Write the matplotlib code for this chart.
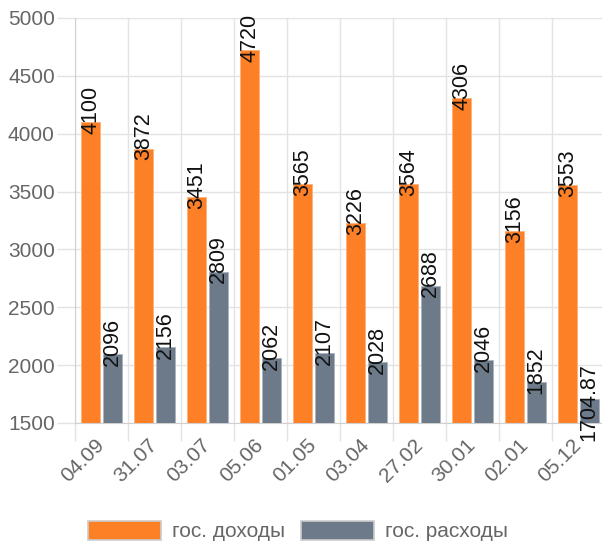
import numpy as np
import matplotlib.pyplot as plt
from matplotlib.ticker import FixedLocator

plt.rcParams['font.family'] = ['Liberation Sans', 'DejaVu Sans']

# chart data
dates = ['04.09', '31.07', '03.07', '05.06', '01.05',
         '03.04', '27.02', '30.01', '02.01', '05.12']
income = [4100, 3872, 3451, 4720, 3565, 3226, 3564, 4306, 3156, 3553]
spending = [2096, 2156, 2809, 2062, 2107, 2028, 2688, 2046, 1852, 1704.87]
income_labels = ['4100', '3872', '3451', '4720', '3565',
                 '3226', '3564', '4306', '3156', '3553']
spending_labels = ['2096', '2156', '2809', '2062', '2107',
                   '2028', '2688', '2046', '1852', '1704.87']
series_names = ['гос. доходы', 'гос. расходы']

income_color = '#fd7f26'
spending_color = '#6c7a89'
grid_color = '#e3e3e3'
text_color = '#666666'
font_size = 15

fig = plt.figure(figsize=(6.02, 5.44), dpi=100)
ax = fig.add_axes([75 / 602, 121 / 544, 530 / 602, 405 / 544])

x = np.arange(len(dates))
bar_w = 0.36
offset = 0.2
bars_in = ax.bar(x - offset, income, bar_w, color=income_color,
                 edgecolor='#ffb27a', linewidth=0.6, label=series_names[0], zorder=3)
bars_out = ax.bar(x + offset, spending, bar_w, color=spending_color,
                  edgecolor='#a9b4bf', linewidth=0.6, label=series_names[1], zorder=3)

# value labels, rotated, top end fixed above bar top
for bars, labels in ((bars_in, income_labels), (bars_out, spending_labels)):
    for rect, lab in zip(bars, labels):
        ax.annotate(lab, (rect.get_x() + rect.get_width() / 2, rect.get_height()),
                    xytext=(0, 26), textcoords='offset points', rotation=90,
                    ha='center', va='top', fontsize=15.5, color='#111111',
                    zorder=4, annotation_clip=False)

ax.set_xlim(-0.5, len(dates) - 0.5)
ax.set_ylim(1500, 5000)
ax.set_yticks(np.arange(1500, 5001, 500))

ax.set_xticks(x)
ax.set_xticklabels(dates, rotation=45, ha='right', va='center',
                   rotation_mode='anchor', fontsize=font_size, color=text_color)
ax.xaxis.set_minor_locator(FixedLocator(np.arange(-0.5, len(dates), 1.0)))
ax.tick_params(axis='x', which='major', length=0, pad=14)
ax.tick_params(axis='x', which='minor', length=13, color=grid_color, width=1)
ax.tick_params(axis='y', length=13, color=grid_color, width=1, pad=1.5,
               labelsize=font_size, labelcolor=text_color)

ax.grid(True, axis='y', which='major', color=grid_color, linewidth=1, zorder=0)
ax.grid(True, axis='x', which='minor', color=grid_color, linewidth=1, zorder=0)
ax.grid(False, axis='x', which='major')
for side in ('top', 'right'):
    ax.spines[side].set_visible(False)
for side in ('left', 'bottom'):
    ax.spines[side].set_color('#d0d0d0')

leg = fig.legend(loc='center', bbox_to_anchor=(298 / 602, 13 / 544),
                 ncol=2, frameon=False, fontsize=font_size,
                 handlelength=3.5, handleheight=1.05, handletextpad=0.5,
                 columnspacing=0.8, labelcolor=text_color)
for h in leg.legend_handles:
    h.set_edgecolor('#cccccc')
    h.set_linewidth(1.2)

fig.savefig('out.png', dpi=100)
